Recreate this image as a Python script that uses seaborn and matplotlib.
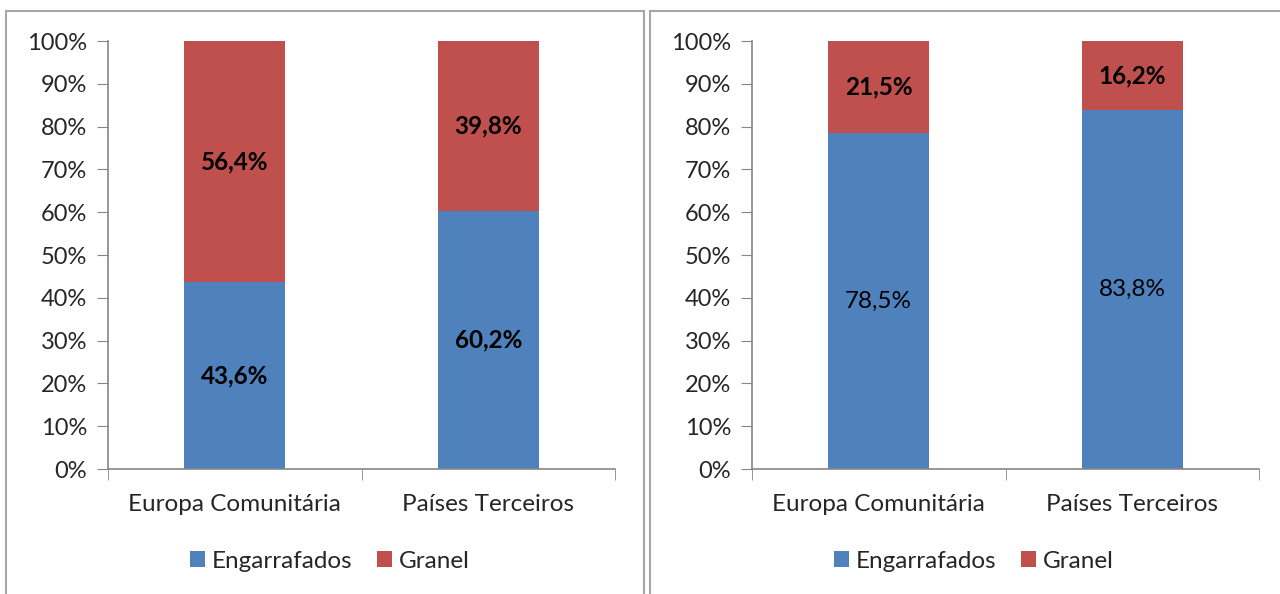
import matplotlib
matplotlib.use("Agg")
import matplotlib.pyplot as plt
import seaborn as sns
import pandas as pd
from matplotlib.patches import Rectangle
from matplotlib.ticker import PercentFormatter, FixedLocator

# Dados
categorias = ["Europa Comunitária", "Países Terceiros"]
engarrafados_esq = [43.6, 60.2]
granel_esq = [56.4, 39.8]
engarrafados_dir = [78.5, 83.8]
granel_dir = [21.5, 16.2]

azul = "#4F81BD"
vermelho = "#C0504D"
cinza = "#868686"
fs = 17.5

sns.set_style("white")
plt.rcParams["font.family"] = ["Lato", "DejaVu Sans"]

fig = plt.figure(figsize=(12.8, 5.94), dpi=100)

# molduras dos dois paineis
W, H = 1280, 594
fig.patches.append(Rectangle((6 / W, -0.05), 638 / W, 1.05 - 11 / H, transform=fig.transFigure,
                             fill=False, edgecolor="#A6A6A6", linewidth=1.5))
fig.patches.append(Rectangle((650 / W, -0.05), 0.5, 1.05 - 11 / H, transform=fig.transFigure,
                             fill=False, edgecolor="#A6A6A6", linewidth=1.5))

paineis = [
    (108, engarrafados_esq, granel_esq, ("bold", "bold")),
    (752, engarrafados_dir, granel_dir, ("normal", "bold")),
]

for x0, eng, gra, pesos in paineis:
    ax = fig.add_axes([x0 / W, 1 - 469 / H, 507 / W, 428 / H])
    df = pd.DataFrame({"Categoria": categorias, "Engarrafados": eng, "Granel": gra})
    df["Total"] = df["Engarrafados"] + df["Granel"]

    sns.barplot(data=df, x="Categoria", y="Total", color=vermelho, width=0.4,
                saturation=1, ax=ax, label="Granel", linewidth=0)
    sns.barplot(data=df, x="Categoria", y="Engarrafados", color=azul, width=0.4,
                saturation=1, ax=ax, label="Engarrafados", linewidth=0)

    for i in range(len(categorias)):
        ax.text(i, eng[i] / 2, f"{eng[i]:.1f}%".replace(".", ","), ha="center", va="center",
                fontsize=fs, fontweight=pesos[0], color="black")
        ax.text(i, eng[i] + gra[i] / 2, f"{gra[i]:.1f}%".replace(".", ","), ha="center",
                va="center", fontsize=fs, fontweight=pesos[1], color="black")

    ax.set_ylim(0, 100)
    ax.set_xlim(-0.5, 1.5)
    ax.set_yticks(range(0, 101, 10))
    ax.yaxis.set_major_formatter(PercentFormatter(decimals=0))
    ax.xaxis.set_minor_locator(FixedLocator([-0.5, 0.5, 1.5]))
    ax.tick_params(axis="x", which="major", length=0, pad=18, labelsize=fs)
    ax.tick_params(axis="x", which="minor", length=8, color=cinza, direction="out", bottom=True)
    ax.tick_params(axis="y", length=8, color=cinza, direction="out", left=True, labelsize=17, pad=7)
    ax.set_xlabel("")
    ax.set_ylabel("")
    for lado in ["top", "right"]:
        ax.spines[lado].set_visible(False)
    for lado in ["left", "bottom"]:
        ax.spines[lado].set_color(cinza)
        ax.spines[lado].set_linewidth(1.2)

    handles, labels = ax.get_legend_handles_labels()
    ordem = [labels.index("Engarrafados"), labels.index("Granel")]
    ax.legend([handles[k] for k in ordem], [labels[k] for k in ordem], loc="center",
              bbox_to_anchor=(0.438, -0.215), ncol=2, frameon=False, fontsize=fs,
              handlelength=0.6, handleheight=0.6, handletextpad=0.3, columnspacing=1.0)

fig.savefig("out.png", dpi=100)
